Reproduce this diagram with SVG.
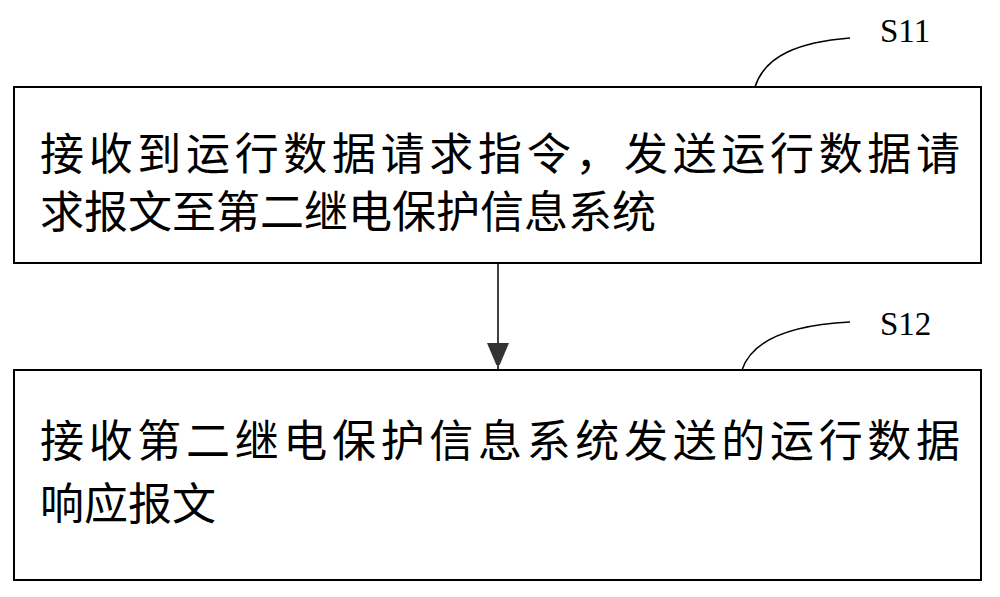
<svg xmlns="http://www.w3.org/2000/svg" width="1000" height="597" viewBox="0 0 1000 597">
<style>
.box{fill:#fff;stroke:#000;stroke-width:2}
.t{font-family:"Noto Sans CJK SC",sans-serif;font-size:44px;fill:#000}
.l{font-family:"Liberation Serif",serif;font-size:33px;fill:#000}
.c{fill:none;stroke:#000;stroke-width:1.5}
</style>
<defs><marker id="a" markerWidth="22" markerHeight="26" refX="26" refY="11" orient="auto" markerUnits="userSpaceOnUse"><path d="M0,0L26,11L0,22z" fill="#333"/></marker></defs>
<rect width="1000" height="597" fill="#fff"/>
<g id="n1"><rect class="box" x="14" y="87" width="967" height="176"/>
<text class="t" x="40" y="170" textLength="920">接收到运行数据请求指令，发送运行数据请</text>
<text class="t" x="40" y="228">求报文至第二继电保护信息系统</text></g>
<g id="n2"><rect class="box" x="14" y="370" width="967" height="210"/>
<text class="t" x="40" y="457" textLength="920">接收第二继电保护信息系统发送的运行数据</text>
<text class="t" x="40" y="520">响应报文</text></g>
<g id="l1"><path class="c" d="M755,87 C765,55 800,42 850,38"/><text class="l" x="880" y="42">S11</text></g>
<g id="l2"><path class="c" d="M742,370 C752,340 790,325 850,322"/><text class="l" x="880" y="335">S12</text></g>
<g id="connectors"><line x1="498" y1="263" x2="498" y2="369" stroke="#000" stroke-width="1.5" marker-end="url(#a)"/></g>
</svg>
